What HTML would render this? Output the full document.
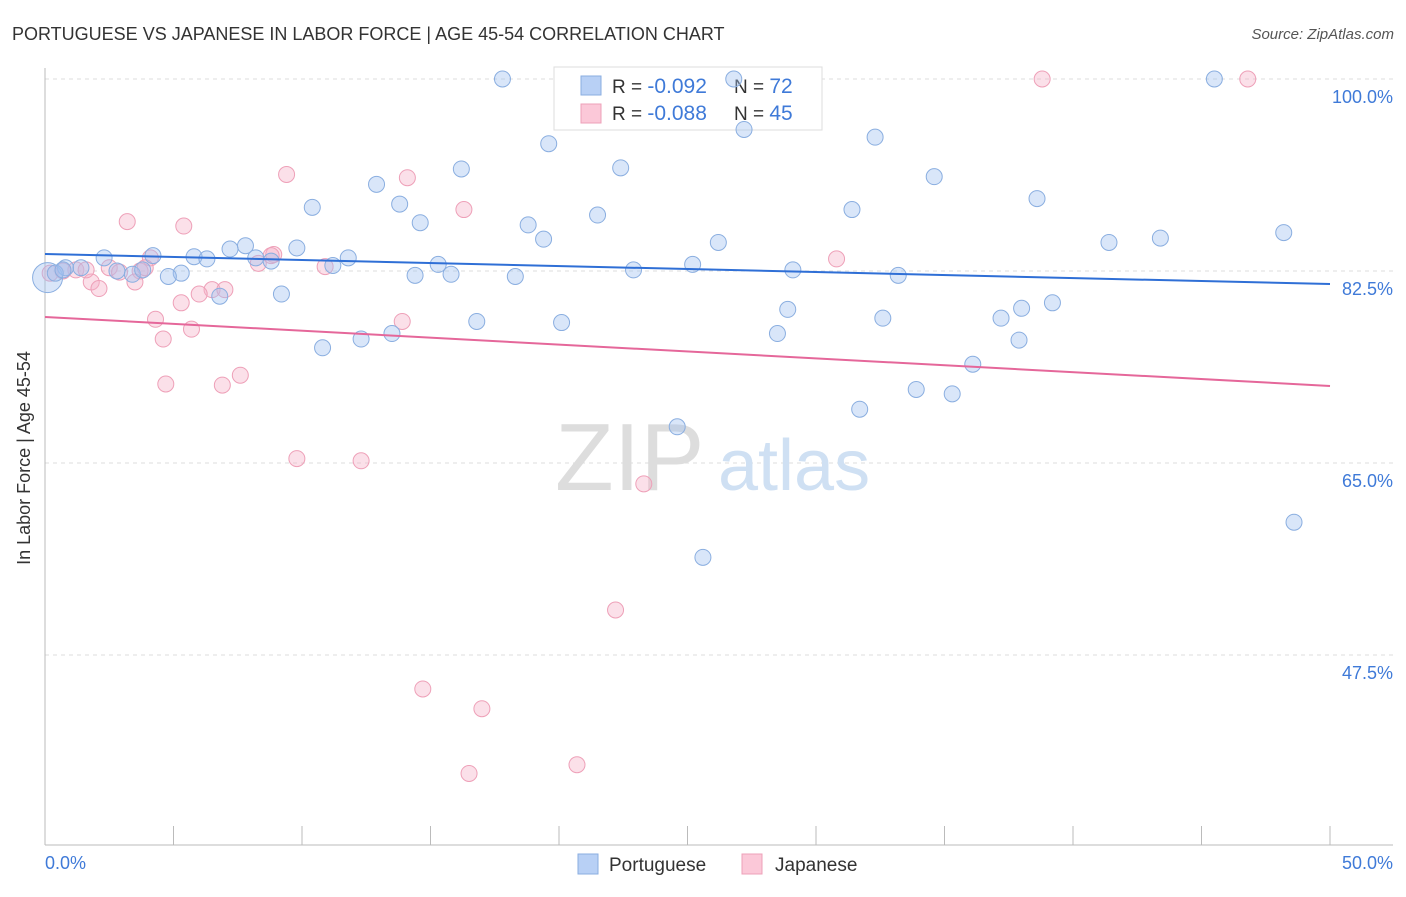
<!DOCTYPE html>
<html><head><meta charset="utf-8"><style>
body{margin:0;background:#fff;font-family:"Liberation Sans",sans-serif;}
svg text{font-family:"Liberation Sans",sans-serif;}
</style></head><body>
<svg id="chart" width="1406" height="892">
<text x="12" y="40" font-size="18" fill="#333">PORTUGUESE VS JAPANESE IN LABOR FORCE | AGE 45-54 CORRELATION CHART</text>
<text x="1394" y="39" font-size="15" fill="#555" text-anchor="end" font-style="italic">Source: ZipAtlas.com</text>
<g id="grid"></g>
<g>
<text x="555" y="490" font-size="96" fill="#ddd" font-family="Liberation Serif">ZIP</text>
<text x="718" y="490" font-size="72" fill="#cfe0f3">atlas</text>
</g>
<g>
<rect x="554" y="67" width="268" height="63" fill="#fff" stroke="#ddd"/>
<rect x="581" y="76" width="20" height="19" fill="#b8d0f5" stroke="#8aaee0"/>
<rect x="581" y="104" width="20" height="19" fill="#fbc8d8" stroke="#eea0b8"/>
<text x="612" y="93" font-size="19" fill="#333">R = <tspan fill="#3f7ad8" font-size="21">-0.092</tspan></text>
<text x="734" y="93" font-size="19" fill="#333">N = <tspan fill="#3f7ad8" font-size="21">72</tspan></text>
<text x="612" y="120" font-size="19" fill="#333">R = <tspan fill="#3f7ad8" font-size="21">-0.088</tspan></text>
<text x="734" y="120" font-size="19" fill="#333">N = <tspan fill="#3f7ad8" font-size="21">45</tspan></text>
</g>
<g id="points"></g>
<g id="trends"></g>
<text x="30" y="458" font-size="18" fill="#333" text-anchor="middle" transform="rotate(-90 30 458)">In Labor Force | Age 45-54</text>
<text x="45" y="869" font-size="18" fill="#3f7ad8">0.0%</text>
<text x="1393" y="869" font-size="18" fill="#3f7ad8" text-anchor="end">50.0%</text>
<g>
<rect x="578" y="854" width="20" height="20" fill="#b8d0f5" stroke="#8aaee0"/>
<text x="609" y="871" font-size="19" fill="#333">Portuguese</text>
<rect x="742" y="854" width="20" height="20" fill="#fbc8d8" stroke="#eea0b8"/>
<text x="775" y="871" font-size="19" fill="#333">Japanese</text>
</g>
</svg>
<script>
const yTicks=[100,82.5,65,47.5];
const yTickLabels=["100.0%","82.5%","65.0%","47.5%"];
const xTicks=[0,5,10,15,20,25,30,35,40,45,50];
const portX=[0.1,17.8,26.8,45.5,27.2,32.3,19.6,16.2,22.4,12.9,34.6,10.4,13.8,31.4,21.5,38.6,14.6,18.8,19.4,48.2,43.4,41.4,26.2,9.8,7.8,7.2,4.2,5.8,6.3,8.8,8.2,11.8,2.3,15.3,11.2,25.2,29.1,22.9,15.8,14.4,18.3,33.2,5.3,4.8,2.8,3.4,3.8,0.8,1.4,0.4,9.2,6.8,39.2,28.9,38.0,37.2,32.6,16.8,20.1,28.5,13.5,12.3,37.9,10.8,36.1,33.9,35.3,31.7,24.6,48.6,25.6,0.7];
const portY=[81.9,100,100,100,95.4,94.7,94.1,91.8,91.9,90.4,91.1,88.3,88.6,88.1,87.6,89.1,86.9,86.7,85.4,86.0,85.5,85.1,85.1,84.6,84.8,84.5,83.9,83.8,83.6,83.4,83.7,83.7,83.7,83.1,83.0,83.1,82.6,82.6,82.2,82.1,82.0,82.1,82.3,82.0,82.5,82.2,82.6,82.8,82.8,82.3,80.4,80.2,79.6,79.0,79.1,78.2,78.2,77.9,77.8,76.8,76.8,76.3,76.2,75.5,74.0,71.7,71.3,69.9,68.3,59.6,56.4,82.6];
const japX=[38.8,46.8,9.4,14.1,3.2,5.4,16.3,8.9,30.8,4.1,8.3,10.9,2.5,1.2,2.9,3.7,1.8,3.5,2.1,0.2,0.7,6.5,7.0,6.0,5.3,4.3,13.9,5.7,4.6,7.6,4.7,6.9,9.8,12.3,23.3,22.2,14.7,17.0,16.5,20.7,1.6,8.8,3.9];
const japY=[100,100,91.3,91.0,87.0,86.6,88.1,84.0,83.6,83.7,83.2,82.9,82.8,82.6,82.4,82.5,81.5,81.5,80.9,82.3,82.5,80.8,80.8,80.4,79.6,78.1,77.9,77.2,76.3,73.0,72.2,72.1,65.4,65.2,63.1,51.6,44.4,42.6,36.7,37.5,82.6,83.9,82.8];
const portTrend=[84.05,81.31];
const japTrend=[78.31,72.02];
const NS="http://www.w3.org/2000/svg";
const X0=45,X1=1330,Y100=79,PXPER=10.971;
function sx(v){return X0+(X1-X0)*v/50;}
function sy(v){return Y100+(100-v)*PXPER;}
function mk(tag,attrs,parent){const e=document.createElementNS(NS,tag);for(const k in attrs)e.setAttribute(k,attrs[k]);parent.appendChild(e);return e;}
const grid=document.getElementById('grid');
yTicks.forEach((t,i)=>{
  const l=mk('line',{x1:45,x2:1393,y1:sy(t),y2:sy(t),stroke:'#ddd','stroke-dasharray':'4,4'},grid);
  
  
  const tx=mk('text',{x:1393,y:sy(t)+24,'font-size':18,fill:'#3f7ad8','text-anchor':'end'},grid);
  tx.textContent=yTickLabels[i];
  
  
});
const ax=mk('line',{x1:45,x2:1393,y1:845,y2:845,stroke:'#bbb'},grid);


const ay=mk('line',{x1:45,x2:45,y1:68,y2:845,stroke:'#bbb'},grid);


xTicks.forEach(t=>{
  const l=mk('line',{x1:sx(t),x2:sx(t),y1:826,y2:845,stroke:'#bbb'},grid);
  
  
});
const pts=document.getElementById('points');
japX.forEach((v,i)=>{
  const c=mk('circle',{cx:sx(v),cy:sy(japY[i]),r:8,fill:'rgba(246,178,200,0.4)',stroke:'#eea0b8','stroke-width':1},pts);
  
  
});
portX.forEach((v,i)=>{
  const c=mk('circle',{cx:sx(v),cy:sy(portY[i]),r:i===0?15:8,fill:'rgba(160,192,240,0.4)',stroke:'#8aaee0','stroke-width':1},pts);
  
  
});
const tr=document.getElementById('trends');
const t1=mk('line',{x1:sx(0),x2:sx(50),y1:sy(portTrend[0]),y2:sy(portTrend[1]),stroke:'#2f6fd6','stroke-width':2},tr);


const t2=mk('line',{x1:sx(0),x2:sx(50),y1:sy(japTrend[0]),y2:sy(japTrend[1]),stroke:'#e5679a','stroke-width':2},tr);


</script>
</body></html>
